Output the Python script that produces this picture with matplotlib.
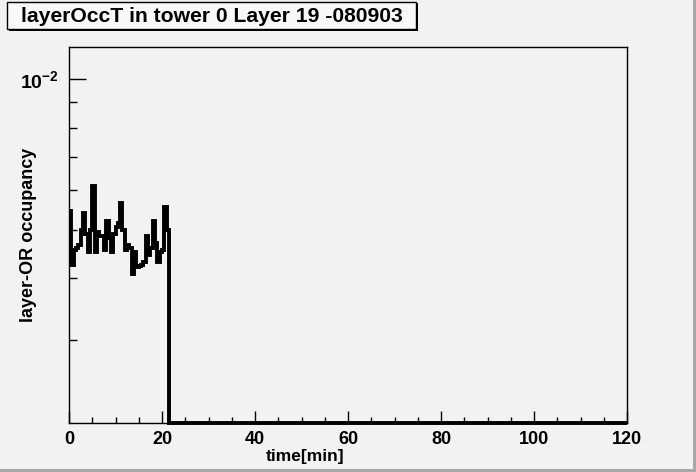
import matplotlib
matplotlib.use("Agg")
import matplotlib.pyplot as plt
import numpy as np
from matplotlib.ticker import FixedLocator, FixedFormatter, LogLocator, NullFormatter, MultipleLocator

plt.rcParams['font.family'] = ['Liberation Sans', 'DejaVu Sans']
plt.rcParams['mathtext.fontset'] = 'custom'
plt.rcParams['mathtext.rm'] = 'Liberation Sans'
plt.rcParams['mathtext.bf'] = 'Liberation Sans:bold'

title = "layerOccT in tower 0 Layer 19 -080903"
x_label = "time[min]"
y_label = "layer-OR occupancy"

# histogram: 240 bins of 0.5 min over 0-120 min, only the first 43 are filled
bin_width = 0.5
n_bins = 240
occupancy = [
    5.45e-3, 4.25e-3, 4.55e-3, 4.6e-3, 4.65e-3, 5.0e-3, 5.4e-3, 4.9e-3,
    4.5e-3, 5.0e-3, 6.1e-3, 4.5e-3, 4.95e-3, 4.85e-3, 4.85e-3, 4.55e-3,
    5.2e-3, 4.8e-3, 4.5e-3, 4.9e-3, 5.05e-3, 5.15e-3, 5.65e-3, 5.0e-3,
    4.55e-3, 4.65e-3, 4.6e-3, 4.08e-3, 4.5e-3, 4.2e-3, 4.22e-3, 4.25e-3,
    4.3e-3, 4.85e-3, 4.45e-3, 4.6e-3, 5.2e-3, 4.7e-3, 4.3e-3, 4.5e-3,
    4.55e-3, 5.55e-3, 5.0e-3,
]
values = np.array(occupancy + [0.0] * (n_bins - len(occupancy)))
edges = np.arange(n_bins + 1) * bin_width

y_min, y_max = 2.05e-3, 1.16e-2

fig = plt.figure(figsize=(6.96, 4.72), dpi=100)
fig.patch.set_facecolor('#f2f2f2')
ax = fig.add_axes([69 / 696, 1 - 423 / 472, 558 / 696, 376 / 472])
ax.set_facecolor('#f2f2f2')

# zero bins get drawn on the bottom edge, like ROOT does
drawn = np.clip(values, y_min, None)
ax.stairs(drawn, edges, baseline=None, color='black', linewidth=2.8, clip_on=False)

ax.set_yscale('log')
ax.set_xlim(0, 120)
ax.set_ylim(y_min, y_max)

ax.xaxis.set_major_locator(MultipleLocator(20))
ax.xaxis.set_minor_locator(MultipleLocator(5))
ax.yaxis.set_major_locator(FixedLocator([1e-2]))
ax.yaxis.set_major_formatter(FixedFormatter([r'$\mathbf{10^{-2}}$']))
ax.yaxis.set_minor_locator(LogLocator(base=10, subs=np.arange(2, 10)))
ax.yaxis.set_minor_formatter(NullFormatter())

ax.tick_params(axis='both', which='both', direction='in', top=False, right=False, width=1, color='black')
ax.tick_params(axis='x', which='major', length=8.5, pad=6, labelsize=13)
ax.tick_params(axis='x', which='minor', length=4.5)
ax.tick_params(axis='y', which='major', length=12, pad=7, labelsize=14)
ax.tick_params(axis='y', which='minor', length=5.8)
for lab in ax.get_xticklabels():
    lab.set_fontweight('bold')

for sp in ax.spines.values():
    sp.set_linewidth(1)
    sp.set_color('black')

ax.set_xlabel(x_label, fontsize=12.5, fontweight='bold')
ax.xaxis.set_label_coords(0.423, -0.068)
ax.set_ylabel(y_label, fontsize=13, fontweight='bold')
ax.yaxis.set_label_coords(-0.057, 0.5)

# title box with a small shadow
shadow = plt.Rectangle((9 / 696, 1 - 31 / 472), 409 / 696, 28 / 472, transform=fig.transFigure,
                       facecolor='black', edgecolor='black', linewidth=0)
box = plt.Rectangle((7 / 696, 1 - 29 / 472), 409 / 696, 27 / 472, transform=fig.transFigure,
                    facecolor='#f8f8f8', edgecolor='black', linewidth=1)
fig.patches.extend([shadow, box])
fig.text(212 / 696, 1 - 16 / 472, title, ha='center', va='center', fontsize=15.2, fontweight='bold')

# canvas bevel on right and bottom
fig.patches.append(plt.Rectangle((1 - 3 / 696, 0), 3 / 696, 1, transform=fig.transFigure,
                                 facecolor='#a8a8a8', linewidth=0))
fig.patches.append(plt.Rectangle((0, 0), 1, 3 / 472, transform=fig.transFigure,
                                 facecolor='#a8a8a8', linewidth=0))

fig.savefig("out.png", dpi=100, facecolor=fig.get_facecolor())
